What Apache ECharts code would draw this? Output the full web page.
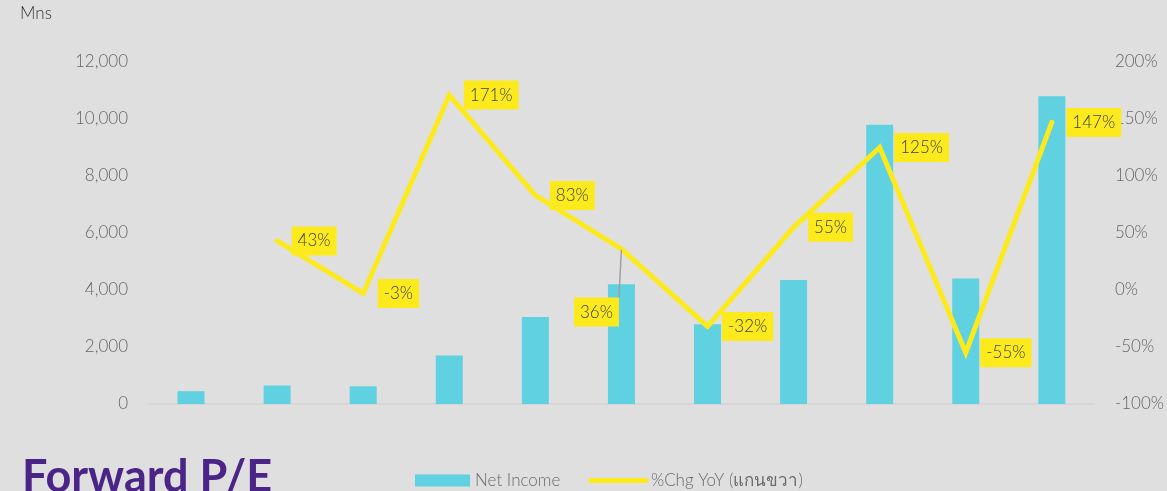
<!DOCTYPE html>
<html>
<head>
<meta charset="utf-8">
<script src="https://cdn.jsdelivr.net/npm/echarts@6/dist/echarts.min.js"></script>
<style>
  html, body { margin: 0; padding: 0; background: #dfdfdf; }
  #chart { width: 1167px; height: 491px; }
</style>
</head>
<body>
<div id="chart"></div>
<script>
// categories have no visible labels in the picture
const categories = ['1', '2', '3', '4', '5', '6', '7', '8', '9', '10', '11']
// Net Income (Mns)
const netIncome = [450, 650, 620, 1700, 3050, 4200, 2800, 4350, 9800, 4400, 10800]
// %Chg YoY (right axis)
const chgYoY = [null, 43, -3, 171, 83, 36, -32, 55, 125, -55, 147]

const fontFamily = 'Lato, "Open Sans", "DejaVu Sans", sans-serif'
const yellow = '#fcea1c'

const chart = echarts.init(document.getElementById('chart'))

// line points with labels; the 36% one sits below-left with a leader line
const lineData = chgYoY.map((v, i) => {
  if (v === 36) {
    return {
      value: v,
      label: { position: 'bottom', offset: [-25, 34] },
      labelLine: { show: true, lineStyle: { color: '#a0a0a0', width: 1.5 } }
    }
  }
  return v
})

const option = {
  backgroundColor: '#dfdfdf',
  textStyle: { fontFamily, fontWeight: 300 },
  grid: { left: 148, right: 70, top: 62, bottom: 87 },
  graphic: [
    {
      type: 'text', left: 20, top: 5,
      style: { text: 'Mns', fontSize: 17, fontWeight: 300, fill: '#333333', fontFamily }
    },
    {
      type: 'text', left: 22, top: 455,
      style: { text: 'Forward P/E', fontSize: 45, fontWeight: 'bold', fill: '#4b2488', fontFamily }
    }
  ],
  legend: {
    left: 410, top: 467,
    itemWidth: 55, itemHeight: 12, itemGap: 28,
    textStyle: { color: '#6b6b6b', fontSize: 17, fontWeight: 300, fontFamily },
    data: [
      { name: 'Net Income', icon: 'rect' },
      { name: '%Chg YoY (แกนขวา)', itemStyle: { opacity: 0 }, lineStyle: { width: 5, cap: 'round' } }
    ]
  },
  xAxis: {
    type: 'category',
    data: categories,
    axisLine: { lineStyle: { color: '#d3d3d3', width: 1.5 } },
    axisTick: { show: false },
    axisLabel: { show: false }
  },
  yAxis: [
    {
      type: 'value', min: 0, max: 12000, interval: 2000,
      splitLine: { show: false },
      axisLabel: {
        color: '#666666', fontSize: 17, fontWeight: 300, margin: 20,
        formatter: v => v.toLocaleString('en-US')
      }
    },
    {
      type: 'value', min: -100, max: 200, interval: 50,
      splitLine: { show: false },
      axisLabel: { color: '#666666', fontSize: 17, fontWeight: 300, margin: 20, formatter: '{value}%' }
    }
  ],
  series: [
    {
      name: 'Net Income',
      type: 'bar',
      data: netIncome,
      barWidth: 27,
      itemStyle: { color: '#5fd1e0' }
    },
    {
      name: '%Chg YoY (แกนขวา)',
      type: 'line',
      yAxisIndex: 1,
      data: lineData,
      symbol: 'circle',
      symbolSize: 1,
      showSymbol: true,
      connectNulls: false,
      lineStyle: { color: yellow, width: 5, cap: 'round', join: 'miter' },
      itemStyle: { color: yellow },
      label: {
        show: true,
        position: 'right',
        distance: 14,
        formatter: '{c}%',
        backgroundColor: yellow,
        color: '#404040',
        fontSize: 17,
        fontWeight: 300,
        padding: [7, 6, 5, 6]
      },
      z: 5
    }
  ]
}

chart.setOption(option)
</script>
</body>
</html>
